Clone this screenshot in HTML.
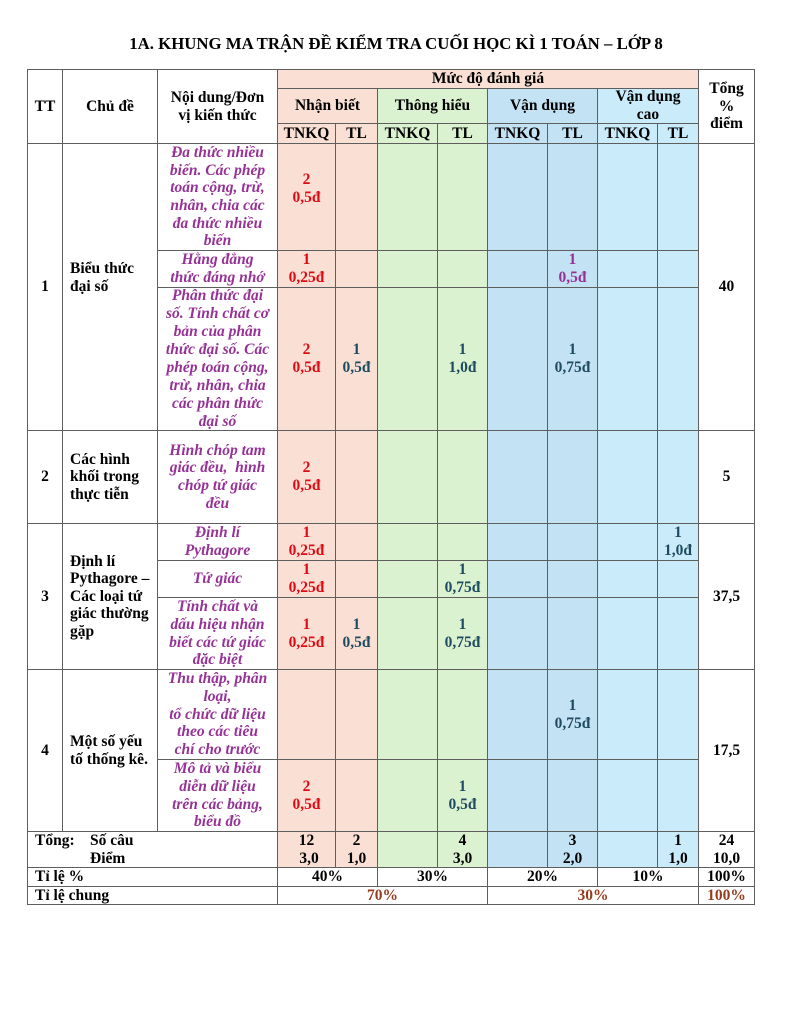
<!DOCTYPE html>
<html><head><meta charset="utf-8">
<style>
html,body{margin:0;padding:0;background:#fff;}
body{width:792px;height:1024px;position:relative;overflow:hidden;font-family:"Liberation Serif","Noto Serif CJK SC",serif;font-weight:bold;color:#000;}
.title{position:absolute;left:0;top:34px;width:792px;text-align:center;font-size:16.8px;line-height:20px;white-space:nowrap;}
.c{position:absolute;box-sizing:border-box;border:1px solid #5e5e5e;display:flex;align-items:center;justify-content:center;text-align:center;font-size:15.5px;line-height:17.6px;white-space:nowrap;}
.p{background:#fae0d4}.g{background:#daf2d0}.b{background:#c3e2f4}.l{background:#caebf9}.w{background:#fff}
.r{color:#e00a14}.t{color:#1e4b5f}.u{color:#963296}.br{color:#963c1e}
.i{font-style:italic;line-height:17.7px}
.left{justify-content:flex-start;text-align:left;padding-left:7px}
</style></head><body>
<div class="title">1A. KHUNG MA TRẬN ĐỀ KIỂM TRA CUỐI HỌC KÌ 1 TOÁN – LỚP 8</div>

<!-- header -->
<div class="c w" style="left:27px;top:69px;width:36px;height:75px">TT</div>
<div class="c w" style="left:62px;top:69px;width:96px;height:75px">Chủ đề</div>
<div class="c w" style="left:157px;top:69px;width:121px;height:75px"><div>Nội dung/Đơn<br>vị kiến thức</div></div>
<div class="c p" style="left:277px;top:69px;width:422px;height:20px">Mức độ đánh giá</div>
<div class="c p" style="left:277px;top:88px;width:101px;height:36px">Nhận biết</div>
<div class="c g" style="left:377px;top:88px;width:111px;height:36px">Thông hiểu</div>
<div class="c b" style="left:487px;top:88px;width:111px;height:36px">Vận dụng</div>
<div class="c l" style="left:597px;top:88px;width:102px;height:36px"><div>Vận dụng<br>cao</div></div>
<div class="c w" style="left:698px;top:69px;width:57px;height:75px"><div>Tổng<br>%<br>điểm</div></div>
<div class="c p" style="left:277px;top:123px;width:59px;height:21px">TNKQ</div>
<div class="c p" style="left:335px;top:123px;width:43px;height:21px">TL</div>
<div class="c g" style="left:377px;top:123px;width:61px;height:21px">TNKQ</div>
<div class="c g" style="left:437px;top:123px;width:51px;height:21px">TL</div>
<div class="c b" style="left:487px;top:123px;width:61px;height:21px">TNKQ</div>
<div class="c b" style="left:547px;top:123px;width:51px;height:21px">TL</div>
<div class="c l" style="left:597px;top:123px;width:61px;height:21px">TNKQ</div>
<div class="c l" style="left:657px;top:123px;width:42px;height:21px">TL</div>

<!-- group 1 -->
<div class="c w" style="left:27px;top:143px;width:36px;height:288px">1</div>
<div class="c w left" style="left:62px;top:143px;width:96px;height:288px;padding-bottom:18px"><div>Biểu thức<br>đại số</div></div>
<div class="c w" style="left:698px;top:143px;width:57px;height:288px">40</div>
<!-- 1a -->
<div class="c w u i" style="left:157px;top:143px;width:121px;height:108px"><div>Đa thức nhiều<br>biến. Các phép<br>toán cộng, trừ,<br>nhân, chia các<br>đa thức nhiều<br>biến</div></div>
<div class="c p r" style="left:277px;top:143px;width:59px;height:108px;padding-bottom:16px"><div>2<br>0,5đ</div></div>
<div class="c p" style="left:335px;top:143px;width:43px;height:108px"></div>
<div class="c g" style="left:377px;top:143px;width:61px;height:108px"></div>
<div class="c g" style="left:437px;top:143px;width:51px;height:108px"></div>
<div class="c b" style="left:487px;top:143px;width:61px;height:108px"></div>
<div class="c b" style="left:547px;top:143px;width:51px;height:108px"></div>
<div class="c l" style="left:597px;top:143px;width:61px;height:108px"></div>
<div class="c l" style="left:657px;top:143px;width:42px;height:108px"></div>
<!-- 1b -->
<div class="c w u i" style="left:157px;top:250px;width:121px;height:38px"><div>Hằng đẳng<br>thức đáng nhớ</div></div>
<div class="c p r" style="left:277px;top:250px;width:59px;height:38px"><div>1<br>0,25đ</div></div>
<div class="c p" style="left:335px;top:250px;width:43px;height:38px"></div>
<div class="c g" style="left:377px;top:250px;width:61px;height:38px"></div>
<div class="c g" style="left:437px;top:250px;width:51px;height:38px"></div>
<div class="c b" style="left:487px;top:250px;width:61px;height:38px"></div>
<div class="c b u" style="left:547px;top:250px;width:51px;height:38px"><div>1<br>0,5đ</div></div>
<div class="c l" style="left:597px;top:250px;width:61px;height:38px"></div>
<div class="c l" style="left:657px;top:250px;width:42px;height:38px"></div>
<!-- 1c -->
<div class="c w u i" style="left:157px;top:287px;width:121px;height:144px;line-height:18px"><div>Phân thức đại<br>số. Tính chất cơ<br>bản của phân<br>thức đại số. Các<br>phép toán cộng,<br>trừ, nhân, chia<br>các phân thức<br>đại số</div></div>
<div class="c p r" style="left:277px;top:287px;width:59px;height:144px"><div>2<br>0,5đ</div></div>
<div class="c p t" style="left:335px;top:287px;width:43px;height:144px"><div>1<br>0,5đ</div></div>
<div class="c g" style="left:377px;top:287px;width:61px;height:144px"></div>
<div class="c g t" style="left:437px;top:287px;width:51px;height:144px"><div>1<br>1,0đ</div></div>
<div class="c b" style="left:487px;top:287px;width:61px;height:144px"></div>
<div class="c b t" style="left:547px;top:287px;width:51px;height:144px"><div>1<br>0,75đ</div></div>
<div class="c l" style="left:597px;top:287px;width:61px;height:144px"></div>
<div class="c l" style="left:657px;top:287px;width:42px;height:144px"></div>

<!-- group 2 -->
<div class="c w" style="left:27px;top:430px;width:36px;height:94px">2</div>
<div class="c w left" style="left:62px;top:430px;width:96px;height:94px"><div>Các hình<br>khối trong<br>thực tiễn</div></div>
<div class="c w" style="left:698px;top:430px;width:57px;height:94px">5</div>
<div class="c w u i" style="left:157px;top:430px;width:121px;height:94px"><div>Hình chóp tam<br>giác đều,&nbsp; hình<br>chóp tứ giác<br>đều</div></div>
<div class="c p r" style="left:277px;top:430px;width:59px;height:94px"><div>2<br>0,5đ</div></div>
<div class="c p" style="left:335px;top:430px;width:43px;height:94px"></div>
<div class="c g" style="left:377px;top:430px;width:61px;height:94px"></div>
<div class="c g" style="left:437px;top:430px;width:51px;height:94px"></div>
<div class="c b" style="left:487px;top:430px;width:61px;height:94px"></div>
<div class="c b" style="left:547px;top:430px;width:51px;height:94px"></div>
<div class="c l" style="left:597px;top:430px;width:61px;height:94px"></div>
<div class="c l" style="left:657px;top:430px;width:42px;height:94px"></div>

<!-- group 3 -->
<div class="c w" style="left:27px;top:523px;width:36px;height:147px">3</div>
<div class="c w left" style="left:62px;top:523px;width:96px;height:147px"><div>Định lí<br>Pythagore –<br>Các loại tứ<br>giác thường<br>gặp</div></div>
<div class="c w" style="left:698px;top:523px;width:57px;height:147px">37,5</div>
<!-- 3a -->
<div class="c w u i" style="left:157px;top:523px;width:121px;height:38px"><div>Định lí<br>Pythagore</div></div>
<div class="c p r" style="left:277px;top:523px;width:59px;height:38px"><div>1<br>0,25đ</div></div>
<div class="c p" style="left:335px;top:523px;width:43px;height:38px"></div>
<div class="c g" style="left:377px;top:523px;width:61px;height:38px"></div>
<div class="c g" style="left:437px;top:523px;width:51px;height:38px"></div>
<div class="c b" style="left:487px;top:523px;width:61px;height:38px"></div>
<div class="c b" style="left:547px;top:523px;width:51px;height:38px"></div>
<div class="c l" style="left:597px;top:523px;width:61px;height:38px"></div>
<div class="c l t" style="left:657px;top:523px;width:42px;height:38px"><div>1<br>1,0đ</div></div>
<!-- 3b -->
<div class="c w u i" style="left:157px;top:560px;width:121px;height:38px">Tứ giác</div>
<div class="c p r" style="left:277px;top:560px;width:59px;height:38px"><div>1<br>0,25đ</div></div>
<div class="c p" style="left:335px;top:560px;width:43px;height:38px"></div>
<div class="c g" style="left:377px;top:560px;width:61px;height:38px"></div>
<div class="c g t" style="left:437px;top:560px;width:51px;height:38px"><div>1<br>0,75đ</div></div>
<div class="c b" style="left:487px;top:560px;width:61px;height:38px"></div>
<div class="c b" style="left:547px;top:560px;width:51px;height:38px"></div>
<div class="c l" style="left:597px;top:560px;width:61px;height:38px"></div>
<div class="c l" style="left:657px;top:560px;width:42px;height:38px"></div>
<!-- 3c -->
<div class="c w u i" style="left:157px;top:597px;width:121px;height:73px"><div>Tính chất và<br>dấu hiệu nhận<br>biết các tứ giác<br>đặc biệt</div></div>
<div class="c p r" style="left:277px;top:597px;width:59px;height:73px"><div>1<br>0,25đ</div></div>
<div class="c p t" style="left:335px;top:597px;width:43px;height:73px"><div>1<br>0,5đ</div></div>
<div class="c g" style="left:377px;top:597px;width:61px;height:73px"></div>
<div class="c g t" style="left:437px;top:597px;width:51px;height:73px"><div>1<br>0,75đ</div></div>
<div class="c b" style="left:487px;top:597px;width:61px;height:73px"></div>
<div class="c b" style="left:547px;top:597px;width:51px;height:73px"></div>
<div class="c l" style="left:597px;top:597px;width:61px;height:73px"></div>
<div class="c l" style="left:657px;top:597px;width:42px;height:73px"></div>

<!-- group 4 -->
<div class="c w" style="left:27px;top:669px;width:36px;height:163px">4</div>
<div class="c w left" style="left:62px;top:669px;width:96px;height:163px"><div>Một số yếu<br>tố thống kê.</div></div>
<div class="c w" style="left:698px;top:669px;width:57px;height:163px">17,5</div>
<!-- 4a -->
<div class="c w u i" style="left:157px;top:669px;width:121px;height:91px"><div>Thu thập, phân<br>loại,<br>tổ chức dữ liệu<br>theo các tiêu<br>chí cho trước</div></div>
<div class="c p" style="left:277px;top:669px;width:59px;height:91px"></div>
<div class="c p" style="left:335px;top:669px;width:43px;height:91px"></div>
<div class="c g" style="left:377px;top:669px;width:61px;height:91px"></div>
<div class="c g" style="left:437px;top:669px;width:51px;height:91px"></div>
<div class="c b" style="left:487px;top:669px;width:61px;height:91px"></div>
<div class="c b t" style="left:547px;top:669px;width:51px;height:91px"><div>1<br>0,75đ</div></div>
<div class="c l" style="left:597px;top:669px;width:61px;height:91px"></div>
<div class="c l" style="left:657px;top:669px;width:42px;height:91px"></div>
<!-- 4b -->
<div class="c w u i" style="left:157px;top:759px;width:121px;height:73px"><div>Mô tả và biểu<br>diễn dữ liệu<br>trên các bảng,<br>biểu đồ</div></div>
<div class="c p r" style="left:277px;top:759px;width:59px;height:73px"><div>2<br>0,5đ</div></div>
<div class="c p" style="left:335px;top:759px;width:43px;height:73px"></div>
<div class="c g" style="left:377px;top:759px;width:61px;height:73px"></div>
<div class="c g t" style="left:437px;top:759px;width:51px;height:73px"><div>1<br>0,5đ</div></div>
<div class="c b" style="left:487px;top:759px;width:61px;height:73px"></div>
<div class="c b" style="left:547px;top:759px;width:51px;height:73px"></div>
<div class="c l" style="left:597px;top:759px;width:61px;height:73px"></div>
<div class="c l" style="left:657px;top:759px;width:42px;height:73px"></div>

<!-- Tong row -->
<div class="c w" style="left:27px;top:831px;width:251px;height:37px;justify-content:flex-start;text-align:left;padding-left:7px;padding-top:1px"><div><div><span style="display:inline-block;width:55px">Tổng:</span>Số câu</div><div style="padding-left:55px">Điểm</div></div></div>
<div class="c p" style="left:277px;top:831px;width:59px;height:37px"><div>12<br><span style="padding-left:5px">3,0</span></div></div>
<div class="c p" style="left:335px;top:831px;width:43px;height:37px"><div>2<br>1,0</div></div>
<div class="c g" style="left:377px;top:831px;width:61px;height:37px"></div>
<div class="c g" style="left:437px;top:831px;width:51px;height:37px"><div>4<br>3,0</div></div>
<div class="c b" style="left:487px;top:831px;width:61px;height:37px"></div>
<div class="c b" style="left:547px;top:831px;width:51px;height:37px"><div>3<br>2,0</div></div>
<div class="c l" style="left:597px;top:831px;width:61px;height:37px"></div>
<div class="c l" style="left:657px;top:831px;width:42px;height:37px"><div>1<br>1,0</div></div>
<div class="c w" style="left:698px;top:831px;width:57px;height:37px"><div>24<br>10,0</div></div>

<!-- Ti le % -->
<div class="c w left" style="left:27px;top:867px;width:251px;height:20px">Tỉ lệ %</div>
<div class="c w" style="left:277px;top:867px;width:101px;height:20px">40%</div>
<div class="c w" style="left:377px;top:867px;width:111px;height:20px">30%</div>
<div class="c w" style="left:487px;top:867px;width:111px;height:20px">20%</div>
<div class="c w" style="left:597px;top:867px;width:102px;height:20px">10%</div>
<div class="c w" style="left:698px;top:867px;width:57px;height:20px">100%</div>

<!-- Ti le chung -->
<div class="c w left" style="left:27px;top:886px;width:251px;height:19px">Tỉ lệ chung</div>
<div class="c w br" style="left:277px;top:886px;width:211px;height:19px">70%</div>
<div class="c w br" style="left:487px;top:886px;width:212px;height:19px">30%</div>
<div class="c w br" style="left:698px;top:886px;width:57px;height:19px">100%</div>
</body></html>
